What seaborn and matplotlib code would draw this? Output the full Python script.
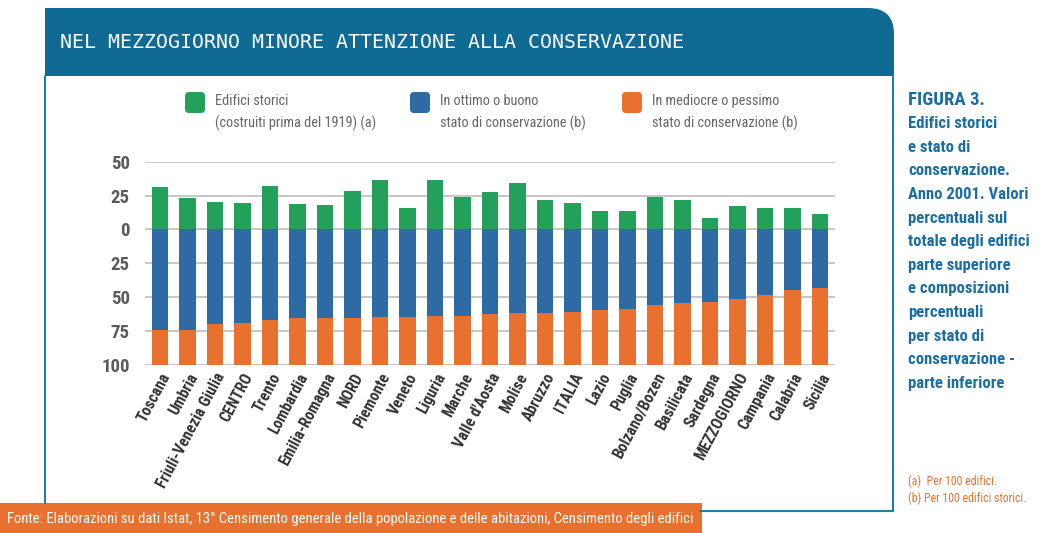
import matplotlib
matplotlib.use("Agg")
import matplotlib.pyplot as plt
import seaborn as sns
import pandas as pd
from matplotlib.patches import Rectangle, FancyBboxPatch, PathPatch
from matplotlib.path import Path

# ---------------- data ----------------
categories = ["Toscana", "Umbria", "Friuli-Venezia Giulia", "CENTRO", "Trento",
              "Lombardia", "Emilia-Romagna", "NORD", "Piemonte", "Veneto",
              "Liguria", "Marche", "Valle d'Aosta", "Molise", "Abruzzo",
              "ITALIA", "Lazio", "Puglia", "Bolzano/Bozen", "Basilicata",
              "Sardegna", "MEZZOGIORNO", "Campania", "Calabria", "Sicilia"]
storici = [31.0, 23.3, 20.4, 19.4, 32.4, 18.9, 18.2, 28.5, 36.4, 16.0,
           36.4, 24.1, 27.3, 34.4, 22.1, 19.2, 13.8, 13.8, 23.8, 21.4,
           8.8, 17.0, 16.2, 16.0, 11.3]
ottimo = [74.2, 74.2, 69.5, 68.8, 67.1, 65.6, 65.1, 65.1, 64.9, 64.9,
          63.6, 63.6, 62.4, 61.5, 61.3, 61.1, 59.5, 59.0, 55.5, 54.5,
          53.8, 51.6, 48.4, 44.7, 43.0]
mediocre = [25.8, 25.8, 30.5, 31.2, 32.9, 34.4, 34.9, 34.9, 35.1, 35.1,
            36.4, 36.4, 37.6, 38.5, 38.7, 38.9, 40.5, 41.0, 44.5, 45.5,
            46.2, 48.4, 51.6, 55.3, 57.0]

yticks = [-100, -75, -50, -25, 0, 25, 50]
ytick_labels = ["100", "75", "50", "25", "0", "25", "50"]

title = "NEL MEZZOGIORNO MINORE ATTENZIONE ALLA CONSERVAZIONE"
legend_labels = ["Edifici storici\n(costruiti prima del 1919) (a)",
                 "In ottimo o buono\nstato di conservazione (b)",
                 "In mediocre o pessimo\nstato di conservazione (b)"]
side_lines = ["FIGURA 3.", "Edifici storici", "e stato di", "conservazione.",
              "Anno 2001. Valori", "percentuali sul", "totale degli edifici",
              "parte superiore", "e composizioni", "percentuali",
              "per stato di", "conservazione -", "parte inferiore"]
notes = ["(a)  Per 100 edifici.", "(b) Per 100 edifici storici."]
source = ("Fonte: Elaborazioni su dati Istat, 13° Censimento generale della "
          "popolazione e delle abitazioni, Censimento degli edifici")

GREEN = "#23A15B"
BLUE = "#2E6BA5"
ORANGE = "#E9712F"
HEAD = "#0F6A94"
BORDER = "#1D7FAA"
TEXTBLUE = "#1B6EA5"
GREY = "#5A5A5A"

sns.set_theme(style="white")
plt.rcParams["font.family"] = ["Roboto Condensed", "DejaVu Sans Condensed",
                               "Liberation Sans Narrow", "Roboto", "DejaVu Sans"]
plt.rcParams["font.stretch"] = "condensed"

W, H = 1047, 533
fig = plt.figure(figsize=(W / 100, H / 100), dpi=100)
fig.patch.set_facecolor("white")

bg = fig.add_axes([0, 0, 1, 1], zorder=0)
bg.set_xlim(0, W)
bg.set_ylim(H, 0)
bg.axis("off")

x0, x1, y0, y1, r = 45, 894, 8, 76, 26
verts = [(x0, y1), (x0, y0), (x1 - r, y0), (x1, y0), (x1, y0 + r), (x1, y1), (x0, y1)]
codes = [Path.MOVETO, Path.LINETO, Path.LINETO, Path.CURVE3, Path.CURVE3, Path.LINETO, Path.CLOSEPOLY]
bg.add_patch(PathPatch(Path(verts, codes), facecolor=HEAD, edgecolor="none"))
bg.text(60, 43, title, color="white", family="DejaVu Sans Mono", fontsize=14.3,
        va="center", ha="left")

bg.plot([45, 45], [76, 503], color=BORDER, lw=1.5)
bg.plot([893, 893], [76, 511], color=BORDER, lw=1.5)
bg.plot([700, 893], [511, 511], color=BORDER, lw=1.5)

bg.add_patch(Rectangle((0, 503), 702, 30, facecolor=ORANGE, edgecolor="none"))
bg.text(7, 518.5, source, color="white", fontsize=10.5, va="center", ha="left")

for xs, col, lab in zip([185, 410, 622], [GREEN, BLUE, ORANGE], legend_labels):
    bg.add_patch(FancyBboxPatch((xs, 92), 20, 21, boxstyle="round,pad=0,rounding_size=4",
                                facecolor=col, edgecolor="none"))
    l1, l2 = lab.split("\n")
    bg.text(xs + 30, 101, l1, color="#666666", fontsize=10.3, va="center", ha="left")
    bg.text(xs + 30, 123, l2, color="#666666", fontsize=10.3, va="center", ha="left")

for i, line in enumerate(side_lines):
    bg.text(908, 100 + i * 23.6, line, color=TEXTBLUE,
            fontsize=13.5 if i == 0 else 12, fontweight="bold", va="center", ha="left")
for i, line in enumerate(notes):
    bg.text(908, 481 + i * 17, line, color=ORANGE, fontsize=8.5, va="center", ha="left")

# ---------------- main chart ----------------
ax = fig.add_axes([145 / W, (H - 365) / H, 690 / W, (365 - 161.7) / H], zorder=1)
ax.set_facecolor("none")

df = pd.DataFrame({
    "cat": categories,
    "storici": storici,
    "ottimo_neg": [-v for v in ottimo],
    "totale_neg": [-(o + m) for o, m in zip(ottimo, mediocre)],
})

common = dict(data=df, x="cat", order=categories, width=0.6, saturation=1,
              errorbar=None, linewidth=0, ax=ax)
sns.barplot(y="totale_neg", color=ORANGE, **common)
sns.barplot(y="ottimo_neg", color=BLUE, **common)
sns.barplot(y="storici", color=GREEN, **common)

ax.set_xlim(-0.55, len(categories) - 0.45)
ax.set_ylim(-100, 50)
ax.set_yticks(yticks)
ax.set_yticklabels(ytick_labels)
ax.yaxis.grid(True, color="#C2C2C2", lw=1.3)
ax.xaxis.grid(False)
ax.set_axisbelow(True)
for s in ax.spines.values():
    s.set_visible(False)
ax.set_xlabel("")
ax.set_ylabel("")
ax.tick_params(axis="y", length=0, pad=11, labelsize=13.5, labelcolor=GREY)
ax.tick_params(axis="x", length=0, pad=4)
for lab in ax.get_yticklabels():
    lab.set_fontweight("bold")
for lab in ax.get_xticklabels():
    lab.set_rotation(62)
    lab.set_ha("right")
    lab.set_rotation_mode("anchor")
    lab.set_fontweight("bold")
    lab.set_fontsize(11.3)
    lab.set_color("#333333")

fig.savefig("out.png", dpi=100, facecolor="white")
